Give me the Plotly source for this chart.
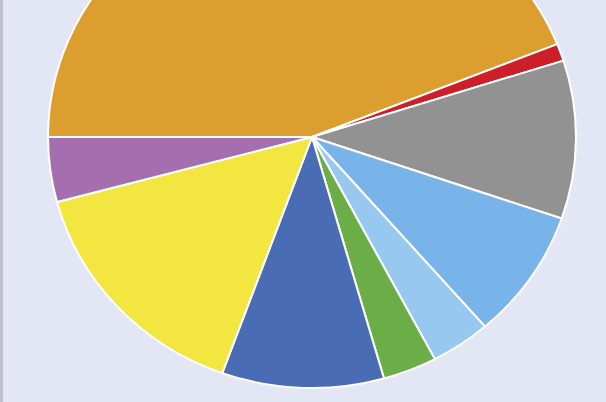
import plotly.graph_objects as go

# Slice data (clockwise from 9 o'clock)
labels = ["A", "B", "C", "D", "E", "F", "G", "H", "I"]
values = [43.97, 1.11, 10.19, 8.36, 3.67, 3.31, 9.92, 15.31, 4.17]
colors = ["#DC9E2E", "#CC1F2A", "#929292", "#78B3EA", "#97C8F0",
          "#6BAE48", "#4A6CB5", "#F4E641", "#A46EAF"]

W, H_VIEW = 606, 402
CX, CY, R = 312, 137, 257
SX, SY = 264 / R, 251 / R          # reference pie is slightly elliptical
SHIFT = R - CY + 4                 # part of the figure hidden above the window
H = H_VIEW + SHIFT + 20

# left border line position before the horizontal stretch
border_px = CX - (CX - 1.5) / SX

fig = go.Figure(go.Pie(
    labels=labels,
    values=values,
    sort=False,
    direction="clockwise",
    rotation=270,
    marker=dict(colors=colors, line=dict(color="white", width=2)),
    textinfo="none",
    hoverinfo="label+percent",
    showlegend=False,
    domain=dict(
        x=[(CX - R) / W, (CX + R) / W],
        y=[(H - (CY + SHIFT) - R) / H, (H - (CY + SHIFT) + R) / H],
    ),
))

fig.update_layout(
    width=W, height=H,
    margin=dict(l=0, r=0, t=0, b=0),
    paper_bgcolor="#E3E6F4",
    plot_bgcolor="#E3E6F4",
    shapes=[dict(type="line", xref="paper", yref="paper",
                 x0=border_px / W, x1=border_px / W,
                 y0=0, y1=1, line=dict(color="#BFC0C8", width=3))],
)

fig.write_html(
    "out.html",
    post_script=(
        "document.body.style.margin='0';"
        "document.body.style.overflow='hidden';"
        "document.body.style.background='#E3E6F4';"
        "var d=document.getElementById('{plot_id}');"
        "d.style.marginTop='-%dpx';"
        "d.style.transformOrigin='%dpx %dpx';"
        "d.style.transform='scale(%.4f,%.4f)';"
    ) % (SHIFT, CX, CY + SHIFT, SX, SY),
)
